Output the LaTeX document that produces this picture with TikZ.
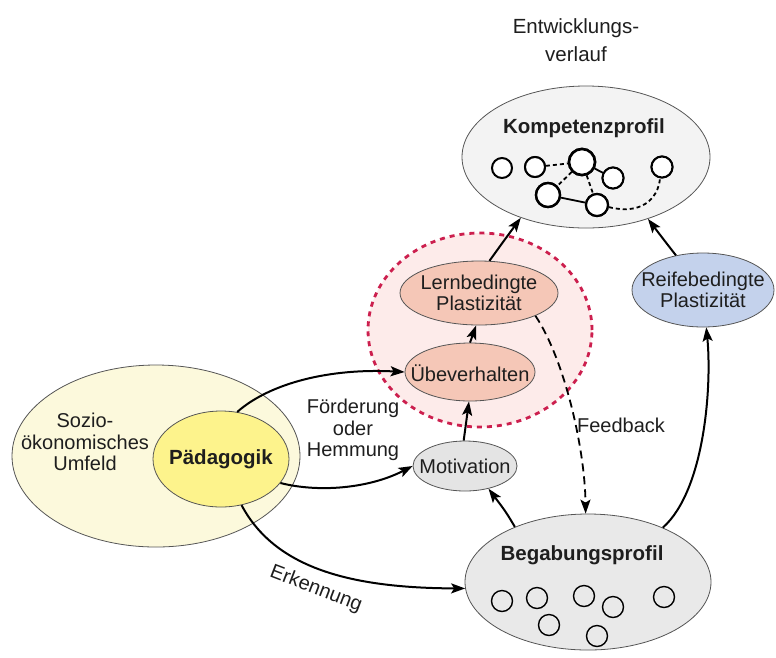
\documentclass[tikz,border=0pt]{standalone}
\usepackage{fontspec}
\setmainfont{Liberation Sans}
\usetikzlibrary{shapes.geometric,arrows.meta}

\definecolor{inkgray}{HTML}{1E1E1E}
\definecolor{rimgray}{HTML}{555555}
\definecolor{kompfill}{HTML}{F3F3F3}
\definecolor{begabfill}{HTML}{E9E9E9}
\definecolor{motifill}{HTML}{E4E4E4}
\definecolor{ringfill}{HTML}{FDEBEA}
\definecolor{ringdraw}{HTML}{CC1F4E}
\definecolor{salmon}{HTML}{F5C7B7}
\definecolor{reiffill}{HTML}{C4D2EC}
\definecolor{umfeldfill}{HTML}{FCF9DC}
\definecolor{paedfill}{HTML}{FDF38C}

\begin{document}
\begin{tikzpicture}[x=1pt,y=-1pt,
  bub/.style={ellipse, draw=rimgray, line width=0.8pt, inner sep=0pt},
  lbl/.style={font=\fontsize{20}{21.5}\selectfont, align=center, text=inkgray, inner sep=0pt},
  blbl/.style={lbl, font=\fontsize{20.5}{22}\selectfont\bfseries},
  arr/.style={-{Stealth[length=14pt,width=10pt,inset=3pt]}, line width=2pt, draw=black},
  darr/.style={arr, dash pattern=on 8pt off 5pt, line width=1.8pt},
  kdot/.style={circle, draw=black, line width=2pt, fill=white, inner sep=0pt},
  bdot/.style={circle, draw=black, line width=1.4pt, minimum size=21pt, inner sep=0pt},
  klink/.style={line width=1.8pt},
  kdash/.style={line width=1.8pt, dash pattern=on 4pt off 3pt},
]
\useasboundingbox (0,0) rectangle (776,657);

% heading
\node[lbl, font=\fontsize{20.5}{28}\selectfont] (head) at (576,40) {Entwicklungs-\\verlauf};

% outer context
\node[bub, fill=umfeldfill, minimum width=288pt, minimum height=182pt] (umfeld) at (156,456) {};
\node[lbl] (umfeldtxt) at (85,442) {Sozio-\\ökonomisches\\Umfeld};
\node[bub, fill=paedfill, minimum width=136pt, minimum height=96pt] (paed) at (221,459) {};
\node[blbl] (paedtxt) at (221,459) {Pädagogik};

% learning zone
\node[ellipse, draw=ringdraw, fill=ringfill, line width=2.8pt, dash pattern=on 5pt off 5pt,
      minimum width=224pt, minimum height=194pt, inner sep=0pt] (ring) at (480,330) {};
\node[bub, fill=salmon, minimum width=158pt, minimum height=64pt] (lern) at (479,293) {};
\node[lbl] (lerntxt) at (479,293) {Lernbedingte\\Plastizität};
\node[bub, fill=salmon, minimum width=130pt, minimum height=58pt] (ueb) at (470,372) {};
\node[lbl] (uebtxt) at (470,373) {Übeverhalten};

\node[bub, fill=motifill, minimum width=104pt, minimum height=50pt] (moti) at (465,466) {};
\node[lbl] (motitxt) at (465,466) {Motivation};

\node[bub, fill=reiffill, minimum width=142pt, minimum height=74pt] (reif) at (703,290) {};
\node[lbl] (reiftxt) at (703,290) {Reifebedingte\\Plastizität};

% competence profile
\node[bub, fill=kompfill, minimum width=248pt, minimum height=142pt] (komp) at (586,157) {};
\node[blbl] (kompttl) at (584,128) {Kompetenzprofil};
\node[kdot, minimum size=20pt] (k1) at (502,168) {};
\node[kdot, minimum size=20pt] (k2) at (535,167) {};
\node[kdot, minimum size=26pt, line width=2.6pt] (k3) at (582,162) {};
\node[kdot, minimum size=21pt] (k4) at (613,178) {};
\node[kdot, minimum size=21pt] (k5) at (662,167) {};
\node[kdot, minimum size=24pt, line width=2.4pt] (k6) at (548,195) {};
\node[kdot, minimum size=22pt, line width=2.2pt] (k7) at (597,205) {};
\draw[kdash] (k2) -- (k3);
\draw[klink] (k3) -- (k4);
\draw[kdash] (k3) -- (k6);
\draw[kdash] (k3) -- (k7);
\draw[klink] (k6) -- (k7);
\draw[kdash] (k7.-10) .. controls (640,215) and (658,200) .. (k5.-100);
% redraw circles on top of the links
\foreach \n/\s/\w in {k2/20/2,k3/26/2.6,k4/21/2,k5/21/2,k6/24/2.4,k7/22/2.2}
  \node[kdot, minimum size=\s pt, line width=\w pt] at (\n) {};

% talent profile
\node[bub, fill=begabfill, minimum width=246pt, minimum height=136pt] (begab) at (588,582) {};
\node[blbl] (begabttl) at (582,555) {Begabungsprofil};
\node[bdot] (b1) at (502,601) {};
\node[bdot] (b2) at (537,598) {};
\node[bdot] (b3) at (584,596) {};
\node[bdot] (b4) at (613,607) {};
\node[bdot] (b5) at (664,597) {};
\node[bdot] (b6) at (549,625) {};
\node[bdot] (b7) at (597,636) {};

% labels on connectors
\node[lbl] (foerd) at (353,430) {Förderung\\oder\\Hemmung};
\node[lbl] (feedb) at (621,425) {Feedback};
\node[lbl, rotate=-21] (erk) at (316,589) {Erkennung};

% connectors
\draw[arr] (paed.71) .. controls (270,383) and (330,368) .. (ueb.west);
\draw[arr] (paed.-22) .. controls (320,493) and (370,488) .. (moti.west);
\draw[arr] (paed.-66) .. controls (275,568) and (350,588) .. (begab.183);
\draw[arr] (moti.93) -- (ueb.268);
\draw[arr] (ueb.north) -- (lern.265);
\draw[arr] (lern.72) .. controls (503,242) .. (komp.-137);
\draw[darr] (lern.-22) .. controls (565,360) and (585,450) .. (begab.92);
\draw[arr] (begab.143) .. controls (506,512) .. (moti.-44);
\draw[arr] (begab.36) .. controls (705,490) and (712,385) .. (reif.-85);
\draw[arr] (reif.128) .. controls (664,240) .. (komp.-45);
\end{tikzpicture}
\end{document}
